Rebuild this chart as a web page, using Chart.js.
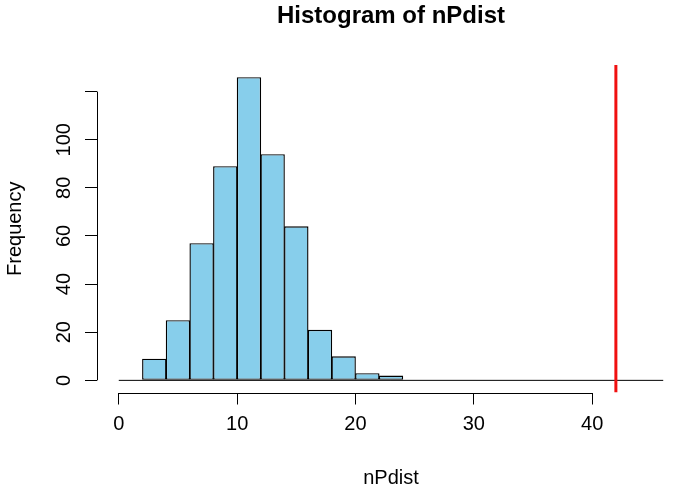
<!DOCTYPE html>
<html>
<head>
<meta charset="utf-8">
<script src="https://cdn.jsdelivr.net/npm/chart.js@4.4.0/dist/chart.umd.min.js"></script>
<style>
  body { margin: 0; background: #fff; }
</style>
</head>
<body>
<canvas id="hist" width="685" height="493"></canvas>
<script>
// histogram bins (breaks) and counts
const breaks = [2, 4, 6, 8, 10, 12, 14, 16, 18, 20, 22, 24];
const counts = [9, 25, 57, 89, 126, 94, 64, 21, 10, 3, 2];
const observed = 42;
const xTicks = [0, 10, 20, 30, 40];
const yTicks = [0, 20, 40, 60, 80, 100, 120];
const yTickLabels = ['0', '20', '40', '60', '80', '100', ''];
const xLimits = [0, 46];
const yLimits = [0, 126];

const FONT = "'Liberation Sans', Arial, Helvetica, sans-serif";

// R adds 4% on each side of the limits
const widen = (lim) => { const d = (lim[1] - lim[0]) * 0.04; return [lim[0] - d, lim[1] + d]; };
const xr = widen(xLimits);
const yr = widen(yLimits);

const bars = counts.map((c, i) => ({ x: (breaks[i] + breaks[i + 1]) / 2, y: c }));

// axis lines that only span first..last tick, rotated y labels, main title
const rStyle = {
  id: 'rStyle',
  afterDraw(chart) {
    const { ctx, chartArea, scales: { x, y } } = chart;
    ctx.save();
    ctx.strokeStyle = '#000';
    ctx.lineWidth = 1;
    ctx.beginPath();
    const by = Math.round(chartArea.bottom) + 0.5;
    ctx.moveTo(x.getPixelForValue(xTicks[0]), by);
    ctx.lineTo(x.getPixelForValue(xTicks[xTicks.length - 1]), by);
    const lx = Math.round(chartArea.left) + 0.5;
    ctx.moveTo(lx, y.getPixelForValue(yTicks[0]));
    ctx.lineTo(lx, y.getPixelForValue(yTicks[yTicks.length - 1]));
    ctx.stroke();

    ctx.fillStyle = '#000';
    ctx.font = `20px ${FONT}`;
    ctx.textAlign = 'center';
    ctx.textBaseline = 'alphabetic';
    yTicks.forEach((v, i) => {
      ctx.save();
      ctx.translate(70, y.getPixelForValue(v));
      ctx.rotate(-Math.PI / 2);
      ctx.fillText(yTickLabels[i], 0, 0);
      ctx.restore();
    });

    ctx.font = `bold 24px ${FONT}`;
    ctx.fillText('Histogram of nPdist', (chartArea.left + chartArea.right) / 2, 23);
    ctx.restore();
  }
};

new Chart(document.getElementById('hist'), {
  type: 'bar',
  data: {
    datasets: [
      {
        type: 'line',
        data: [{ x: observed, y: yr[0] }, { x: observed, y: yr[1] }],
        borderColor: '#f01010',
        borderWidth: 3,
        pointRadius: 0,
        order: 1
      },
      {
        type: 'line',
        data: [{ x: xLimits[0], y: 0 }, { x: xLimits[1], y: 0 }],
        borderColor: '#000',
        borderWidth: 1,
        pointRadius: 0,
        order: 2
      },
      {
        data: bars,
        backgroundColor: '#87ceeb',
        borderColor: '#000',
        borderWidth: 1.4,
        borderSkipped: false,
        barPercentage: 1.03,
        categoryPercentage: 1,
        order: 3
      }
    ]
  },
  options: {
    responsive: false,
    animation: false,
    layout: { padding: { top: 65, left: 0, right: 0, bottom: 0 } },
    plugins: {
      legend: { display: false },
      tooltip: { enabled: false }
    },
    scales: {
      x: {
        type: 'linear',
        min: xr[0],
        max: xr[1],
        offset: false,
        afterBuildTicks: (s) => { s.ticks = xTicks.map(v => ({ value: v })); },
        afterFit: (s) => { s.height = 100.5; },
        ticks: { color: '#000', font: { family: FONT, size: 20 }, padding: 8, autoSkip: false, maxRotation: 0 },
        grid: { offset: false, drawOnChartArea: false, drawTicks: true, tickLength: 12, color: '#000', tickColor: '#000' },
        border: { display: false },
        title: { display: true, text: 'nPdist', color: '#000', font: { family: FONT, size: 20 }, padding: { top: 0, bottom: 3 } }
      },
      y: {
        type: 'linear',
        min: yr[0],
        max: yr[1],
        afterBuildTicks: (s) => { s.ticks = yTicks.map(v => ({ value: v })); },
        afterFit: (s) => { s.width = 97; },
        ticks: { display: false },
        grid: { drawOnChartArea: false, drawTicks: true, tickLength: 12, color: '#000', tickColor: '#000' },
        border: { display: false },
        title: { display: true, text: 'Frequency', color: '#000', font: { family: FONT, size: 20 }, padding: { top: 3, bottom: 0 } }
      }
    }
  },
  plugins: [rStyle]
});
</script>
</body>
</html>
